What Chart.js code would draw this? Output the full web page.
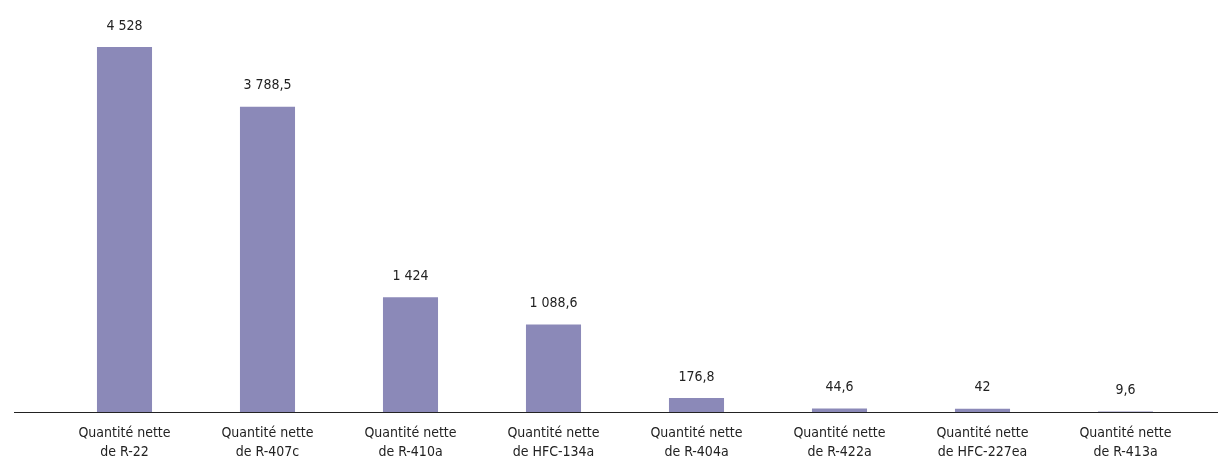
<!DOCTYPE html>
<html>
<head>
<meta charset="utf-8">
<script src="https://cdn.jsdelivr.net/npm/chart.js@4"></script>
<style>
  html, body { margin: 0; padding: 0; background: #fff; }
  #wrap { width: 1218px; height: 462px; position: relative; }
</style>
</head>
<body>
<div id="wrap"><canvas id="chart"></canvas></div>
<script>
// =========================
// Data
// =========================
const categories = [
    ['Quantité nette', 'de R-22'],
    ['Quantité nette', 'de R-407c'],
    ['Quantité nette', 'de R-410a'],
    ['Quantité nette', 'de HFC-134a'],
    ['Quantité nette', 'de R-404a'],
    ['Quantité nette', 'de R-422a'],
    ['Quantité nette', 'de HFC-227ea'],
    ['Quantité nette', 'de R-413a']
];
const quantities = [4528, 3788.5, 1424, 1088.6, 176.8, 44.6, 42, 9.6];

const FONT = '"DejaVu Sans Condensed", "Liberation Sans Narrow", sans-serif';

// French number format: "3 788,5"
function frNumber(v) {
    const parts = String(v).split('.');
    const intPart = parts[0].replace(/\B(?=(\d{3})+(?!\d))/g, ' ');
    return parts.length > 1 ? intPart + ',' + parts[1] : intPart;
}

// =========================
// Plugins: value labels + baseline
// =========================
const valueLabels = {
    id: 'valueLabels',
    afterDatasetsDraw(chart) {
        const ctx = chart.ctx;
        const meta = chart.getDatasetMeta(0);
        ctx.save();
        ctx.font = '14px ' + FONT;
        ctx.fillStyle = '#222';
        ctx.textAlign = 'center';
        ctx.textBaseline = 'bottom';
        meta.data.forEach((bar, i) => {
            ctx.fillText(frNumber(quantities[i]), bar.x, bar.y - 14);
        });
        ctx.restore();
    }
};

const baseline = {
    id: 'baseline',
    afterDatasetsDraw(chart) {
        const ctx = chart.ctx;
        const y = Math.round(chart.chartArea.bottom) + 0.5;
        ctx.save();
        ctx.strokeStyle = '#222';
        ctx.lineWidth = 1;
        ctx.beginPath();
        ctx.moveTo(14, y);
        ctx.lineTo(chart.width, y);
        ctx.stroke();
        ctx.restore();
    }
};

// =========================
// Chart
// =========================
new Chart(document.getElementById('chart').getContext('2d'), {
    type: 'bar',
    data: {
        labels: categories,
        datasets: [{
            data: quantities,
            backgroundColor: '#8b89b8',
            barPercentage: 0.385,
            categoryPercentage: 1
        }]
    },
    options: {
        responsive: true,
        maintainAspectRatio: false,
        animation: false,
        layout: { padding: { left: 53, right: 21, top: 0, bottom: -12 } },
        plugins: { legend: { display: false }, tooltip: { enabled: false } },
        scales: {
            x: {
                grid: { display: false, drawTicks: false },
                border: { display: false },
                ticks: {
                    color: '#222',
                    font: { family: FONT, size: 14, lineHeight: 1.35 },
                    padding: 12,
                    maxRotation: 0,
                    autoSkip: false
                }
            },
            y: {
                display: false,
                min: 0,
                max: 5111
            }
        }
    },
    plugins: [valueLabels, baseline]
});
</script>
</body>
</html>
